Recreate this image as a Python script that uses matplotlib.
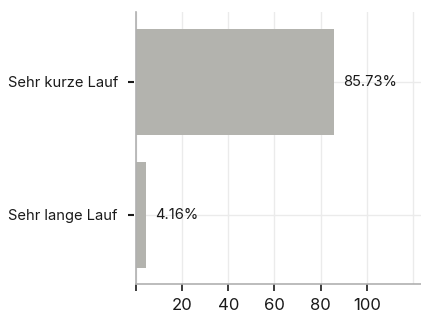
import matplotlib
matplotlib.use("Agg")
import matplotlib.pyplot as plt
import matplotlib.transforms as mtransforms

categories = ["Sehr lange Lauf", "Sehr kurze Lauf"]
values = [4.16, 85.73]
xticks = [0, 20, 40, 60, 80, 100, 120]
xticklabels = ["", "20", "40", "60", "80", "100", ""]

plt.rcParams['font.family'] = ['Inter', 'DejaVu Sans']

fig = plt.figure(figsize=(4.21, 3.13), dpi=100)
ax = fig.add_axes([136/421, 1 - 284/313, (421 - 136)/421, (284 - 12)/313])

ax.barh(range(len(categories)), values, height=0.8, color='#b3b3ae', zorder=2)
for i, v in enumerate(values):
    ax.annotate(f"{v:.2f}%", (v, i), xytext=(7, 0), textcoords='offset points',
                va='center', ha='left', fontsize=10.6, color='#1a1a1a')

ax.set_yticks(range(len(categories)))
ax.set_yticklabels(categories, fontsize=10.6, color='#1a1a1a')
ax.set_xticks(xticks)
ax.set_xticklabels(xticklabels, fontsize=12, color='#1a1a1a')
ax.set_xlim(0, 123.5)
ax.set_ylim(-0.52, 1.526)

ax.grid(True, color='#ebebeb', linewidth=1, zorder=0)
ax.set_axisbelow(True)
for s in ['top', 'right']:
    ax.spines[s].set_visible(False)
for s in ['left', 'bottom']:
    ax.spines[s].set_color('#b0b0b0')
    ax.spines[s].set_linewidth(1.2)

ax.tick_params(axis='x', length=5, width=1.2, color='#1a1a1a', pad=5)
ax.tick_params(axis='y', length=4, width=1.5, color='#1a1a1a', pad=9)
# y ticks sit a little away from the spine
shift = mtransforms.ScaledTranslation(-2/100, 0, fig.dpi_scale_trans)
for t in ax.yaxis.get_major_ticks():
    t.tick1line.set_transform(t.tick1line.get_transform() + shift)
# no tick mark at 120, only the grid line
ax.xaxis.get_major_ticks()[-1].tick1line.set_visible(False)

fig.savefig("out.png", dpi=100)
